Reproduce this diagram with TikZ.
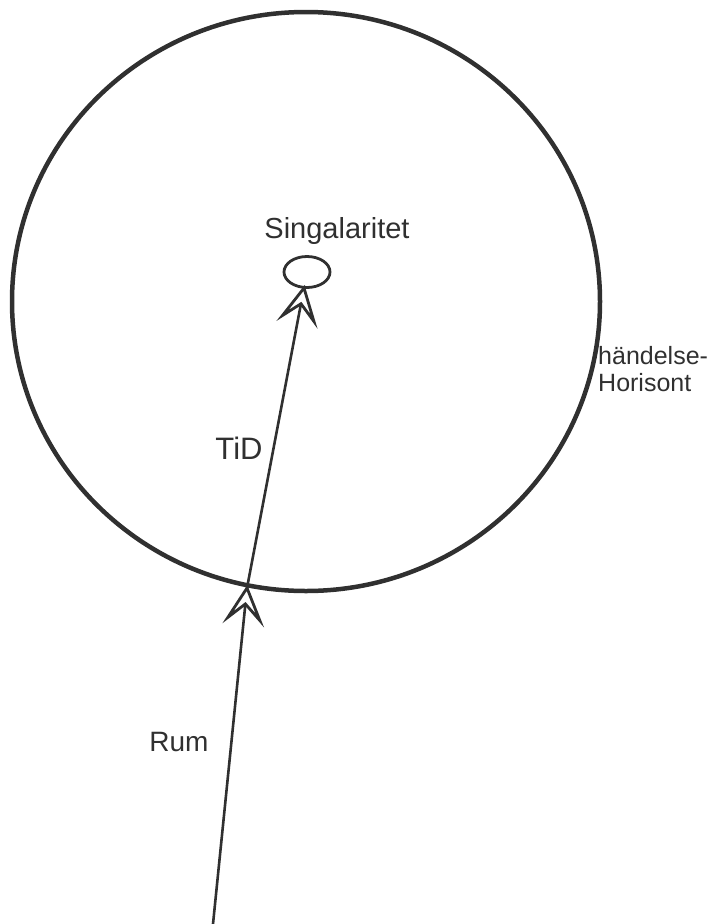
\documentclass[tikz,border=0pt]{standalone}
\usepackage{fontspec}
\setmainfont{Liberation Sans}
\usetikzlibrary{calc,shapes.geometric}
\definecolor{ink}{HTML}{303030}
\tikzset{
  horizon/.style={draw=ink,line width=4.5pt},
  singbox/.style={draw=ink,line width=2.8pt,ellipse,minimum width=46pt,minimum height=31pt,inner sep=0pt},
  worldline/.style={draw=ink,line width=2.6pt},
  headstyle/.style={draw=ink,fill=white,line width=2.8pt,line join=miter},
  lbl/.style={text=ink,inner sep=0pt}
}
\newcommand{\chevronhead}[2]{% tip, point behind
  \path[headstyle]
    (#1) -- ($($(#1)!31pt!(#2)$)!16pt!90:(#1)$)
    -- ($(#1)!16pt!(#2)$)
    -- ($($(#1)!31pt!(#2)$)!16pt!-90:(#1)$) -- cycle;
}
\begin{document}
\begin{tikzpicture}[x=1pt,y=-1pt]
\useasboundingbox (0,0) rectangle (716,924);
\node[horizon,ellipse,minimum width=588pt,minimum height=579pt,inner sep=0pt] (hor) at (306,301.5) {};
\node[singbox] (sing) at (307,272) {};
\coordinate (start) at (213,924);
\coordinate (mid) at (247,588);
\coordinate (top) at (304,288);
\draw[worldline] (start) -- (mid) -- (sing);
\chevronhead{mid}{start}
\chevronhead{top}{mid}
\node[lbl,font=\fontsize{29pt}{32pt}\selectfont] (lsing) at (337,231) {Singalaritet};
\node[lbl,font=\fontsize{25pt}{27pt}\selectfont,align=left,anchor=west] (lhor) at (598,369) {händelse-\\Horisont};
\node[lbl,font=\fontsize{31pt}{34pt}\selectfont] (ltid) at (239,448) {TiD};
\node[lbl,font=\fontsize{28pt}{31pt}\selectfont] (lrum) at (179,742) {Rum};
\end{tikzpicture}
\end{document}
